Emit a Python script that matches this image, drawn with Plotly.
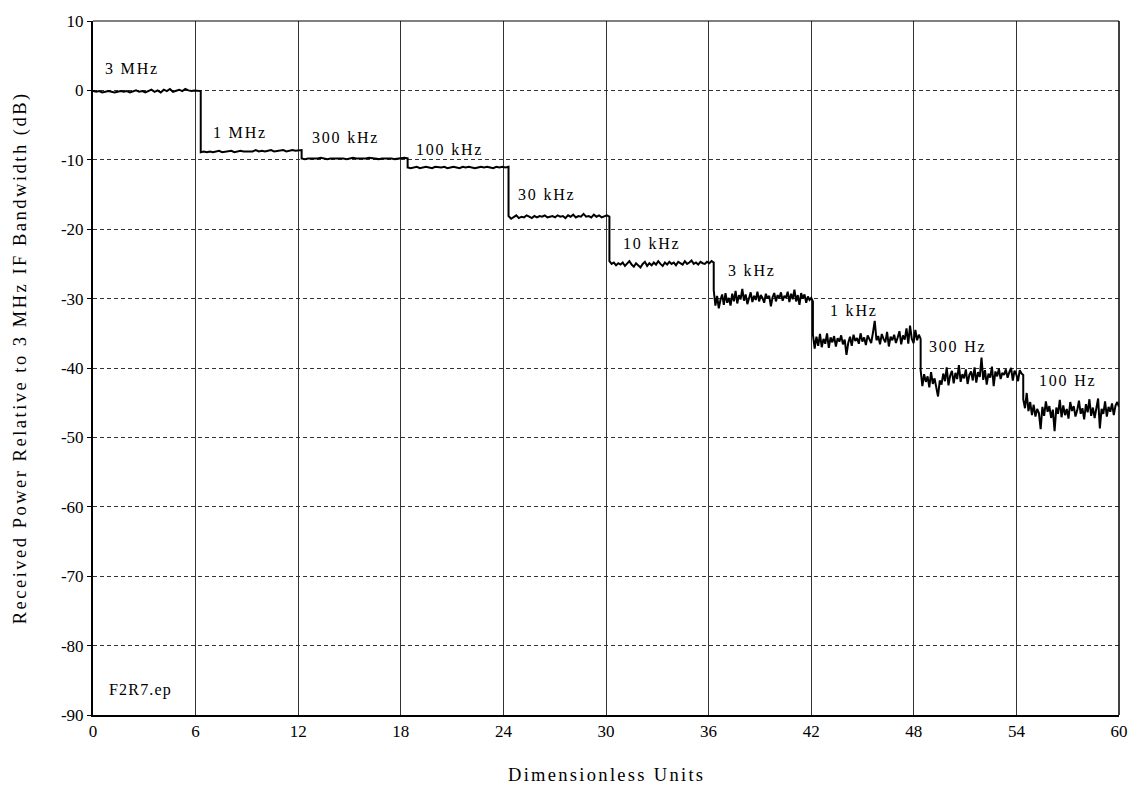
import plotly.graph_objects as go

# Bandwidth step boundaries (dimensionless units) and labels
bounds = [0, 6.3, 12.2, 18.4, 24.3, 30.2, 36.3, 42.1, 48.4, 54.4, 60]
labels = ["3 MHz", "1 MHz", "300 kHz", "100 kHz", "30 kHz", "10 kHz",
          "3 kHz", "1 kHz", "300 Hz", "100 Hz"]
label_x = [0.6, 6.9, 12.7, 18.8, 24.75, 30.9, 37.0, 43.0, 48.8, 55.2]
label_y = [3.1, -6.0, -6.8, -8.5, -15.0, -22.1, -25.9, -31.7, -36.9, -41.8]

# Received power samples (dB) per bandwidth segment
seg_3mhz = [-0.1, -0.2, -0.1, -0.3, -0.2, -0.1, -0.2, -0.3, -0.2, -0.1, -0.2, -0.1,
            -0.3, -0.2, 0.0, -0.2, -0.1, -0.3, -0.1, 0.1, -0.2, 0.0, -0.3, 0.1,
            -0.1, 0.2, -0.2, 0.0, 0.1, -0.1, 0.2, 0.0, -0.1, 0.0, -0.1, -0.1]
seg_1mhz = [-8.9, -8.8, -8.9, -8.8, -8.9, -8.8, -8.7, -8.9, -8.8, -8.8, -8.7, -8.9,
            -8.8, -8.7, -8.8, -8.8, -8.7, -8.8, -8.6, -8.8, -8.7, -8.8, -8.7, -8.6,
            -8.8, -8.7, -8.7, -8.6, -8.8, -8.7, -8.6, -8.7, -8.7, -8.6]
seg_300khz = [-9.8, -9.9, -9.8, -9.8, -9.9, -9.8, -9.7, -9.8, -9.9, -9.8, -9.8, -9.7,
              -9.8, -9.8, -9.9, -9.8, -9.7, -9.8, -9.8, -9.9, -9.8, -9.7, -9.8, -9.8,
              -9.9, -9.8, -9.8, -9.7, -9.8, -9.9, -9.8, -9.8, -9.7, -9.8]
seg_100khz = [-11.1, -11.2, -11.1, -11.0, -11.2, -11.1, -11.0, -11.1, -11.2, -11.0,
              -11.1, -11.1, -11.0, -11.2, -11.1, -11.0, -11.1, -11.2, -11.0, -11.1,
              -11.0, -11.1, -11.2, -11.1, -11.0, -11.1, -11.0, -11.1, -11.2, -11.0,
              -11.1, -11.0, -11.1, -11.0]
seg_30khz = [-18.1, -18.5, -18.2, -18.0, -18.4, -18.2, -18.3, -18.0, -18.2, -18.4,
             -18.1, -18.3, -18.1, -18.2, -18.0, -18.3, -18.2, -18.1, -18.3, -18.0,
             -18.2, -18.1, -18.4, -18.0, -18.2, -17.9, -18.3, -18.1, -18.2, -17.8,
             -18.2, -18.1, -18.3, -17.9, -18.2, -18.0, -18.3, -18.1, -18.0, -18.2]
seg_10khz = [-24.6, -25.0, -24.8, -25.2, -24.9, -25.1, -24.8, -25.3, -24.9, -24.6,
             -25.1, -25.4, -24.9, -25.2, -25.5, -25.0, -24.7, -25.3, -24.9, -25.2,
             -24.8, -25.1, -24.6, -25.0, -25.3, -24.8, -25.1, -24.7, -25.0, -24.8,
             -25.2, -24.7, -24.9, -25.1, -24.6, -25.0, -24.8, -24.5, -25.0, -24.8,
             -25.1, -24.7, -24.9, -25.0, -24.7, -24.9, -24.6, -24.8]
seg_3khz = [-28.8, -31.0, -29.6, -31.4, -30.2, -29.4, -30.9, -29.2, -30.6, -29.9,
            -31.0, -29.3, -30.4, -28.9, -30.7, -29.5, -30.1, -28.6, -30.3, -29.4,
            -30.8, -29.7, -29.1, -30.5, -29.6, -30.2, -29.0, -30.4, -29.5, -29.9,
            -30.6, -29.3, -30.0, -29.6, -31.1, -29.8, -29.2, -30.4, -29.5, -30.0,
            -29.1, -30.3, -29.6, -29.9, -29.0, -30.5, -29.3, -30.1, -28.7, -30.4,
            -29.5, -30.9, -29.2, -30.0, -29.4, -30.6, -29.7, -30.2, -29.9, -30.4]
seg_1khz = [-35.2, -37.2, -35.5, -36.8, -35.1, -37.0, -35.8, -36.5, -35.0, -37.1,
            -35.6, -36.3, -35.4, -36.9, -35.7, -36.2, -35.3, -36.6, -35.9, -38.1,
            -36.4, -35.5, -36.8, -35.2, -36.1, -35.7, -36.5, -35.0, -36.2, -35.6,
            -36.7, -35.3, -35.9, -36.4, -34.9, -33.2, -36.0, -35.4, -36.6, -35.1,
            -35.8, -36.3, -34.8, -36.9, -35.5, -36.0, -35.2, -36.4, -35.6, -34.7,
            -36.6, -35.3, -35.9, -34.3, -36.5, -33.9, -35.8, -36.4, -34.5, -36.0,
            -35.2, -35.8]
seg_300hz = [-40.3, -42.6, -40.9, -42.0, -41.2, -42.8, -40.6, -42.3, -41.5, -43.0,
             -44.1, -41.8, -42.4, -40.8, -41.9, -39.9, -42.5, -41.1, -40.4, -42.2,
             -40.7, -41.6, -39.6, -42.0, -40.9, -41.5, -40.2, -42.3, -41.0, -40.5,
             -41.8, -39.9, -42.1, -40.6, -41.3, -38.5, -41.7, -40.3, -42.4, -40.8,
             -41.4, -39.8, -42.6, -40.5, -41.2, -40.1, -41.6, -40.7, -41.0, -40.2,
             -41.4, -40.6, -40.0, -41.8, -40.4, -40.9, -41.9, -40.3, -40.8, -41.0]
seg_100hz = [-44.5, -45.8, -43.6, -46.2, -44.9, -46.8, -45.3, -47.0, -45.9, -46.5,
             -48.8, -45.6, -46.9, -44.8, -46.3, -45.5, -47.2, -46.0, -49.1, -45.7,
             -46.6, -44.6, -47.1, -45.4, -46.8, -45.9, -47.3, -44.9, -46.2, -45.5,
             -47.0, -46.1, -44.7, -46.6, -45.8, -47.4, -45.2, -46.4, -44.5, -46.9,
             -45.7, -47.2, -46.0, -44.4, -48.7, -45.9, -46.6, -44.8, -47.0, -45.6,
             -46.3, -45.1, -46.8, -45.4, -44.9, -45.6]

segments = [seg_3mhz, seg_1mhz, seg_300khz, seg_100khz, seg_30khz, seg_10khz,
            seg_3khz, seg_1khz, seg_300hz, seg_100hz]

# Sample positions: evenly spaced within each bandwidth segment
xs, ys = [], []
for i, seg in enumerate(segments):
    x0, x1 = bounds[i], bounds[i + 1]
    n = len(seg)
    for k, v in enumerate(seg):
        xs.append(x0 + (x1 - x0) * k / (n - 1))
        ys.append(v)

x_ticks = list(range(0, 61, 6))
y_ticks = list(range(-90, 11, 10))
y_ticktext = [str(v) for v in y_ticks]  # plain hyphen-minus as in the original

FONT = "Liberation Serif, Times New Roman, serif"


def spaced(text, px):
    return '<span style="letter-spacing:%.1fpx">%s</span>' % (px, text)


fig = go.Figure()
fig.add_trace(go.Scatter(x=xs, y=ys, mode="lines",
                         line=dict(color="black", width=2),
                         showlegend=False, hoverinfo="skip"))

for lx, ly, t in zip(label_x, label_y, labels):
    fig.add_annotation(x=lx, y=ly, xref="x", yref="y", text=spaced(t, 1.8),
                       showarrow=False, xanchor="left", yanchor="middle",
                       font=dict(family=FONT, size=16, color="black"))

fig.add_annotation(x=0.8, y=-86.4, xref="x", yref="y", text=spaced("F2R7.ep", 1.2),
                   showarrow=False, xanchor="left", yanchor="middle",
                   font=dict(family=FONT, size=16, color="black"))

# Axis titles
fig.add_annotation(x=-0.0705, y=0.515, xref="paper", yref="paper",
                   text=spaced("Received Power Relative to 3 MHz IF Bandwidth (dB)", 2.5),
                   textangle=-90, showarrow=False, xanchor="center", yanchor="middle",
                   font=dict(family=FONT, size=18.5, color="black"))
fig.add_annotation(x=0.5, y=-0.087, xref="paper", yref="paper",
                   text=spaced("Dimensionless Units", 2.3), showarrow=False,
                   xanchor="center", yanchor="middle",
                   font=dict(family=FONT, size=18.5, color="black"))

# Top and right frame lines
fig.add_shape(type="line", xref="paper", yref="paper", x0=0, x1=1, y0=1, y1=1,
              line=dict(color="black", width=1))
fig.add_shape(type="line", xref="paper", yref="paper", x0=1, x1=1, y0=0, y1=1,
              line=dict(color="black", width=1.5))

fig.update_xaxes(range=[0, 60], tickvals=x_ticks, showgrid=True,
                 gridcolor="#333333", gridwidth=1, griddash="solid",
                 showline=True, linecolor="black", linewidth=2, zeroline=False,
                 ticks="", tickfont=dict(family=FONT, size=17, color="black"))
fig.update_yaxes(range=[-90, 10], tickvals=y_ticks, ticktext=y_ticktext,
                 showgrid=True, gridcolor="#333333", gridwidth=1, griddash="4px,3px",
                 showline=True, linecolor="black", linewidth=2, zeroline=False,
                 ticks="outside", ticklen=4, tickcolor="black",
                 tickfont=dict(family=FONT, size=17, color="black"))

fig.update_layout(width=1140, height=788,
                  margin=dict(l=93, r=12, t=15, b=73),
                  paper_bgcolor="white", plot_bgcolor="white",
                  font=dict(family=FONT, color="black"))

fig.write_html("out.html")
